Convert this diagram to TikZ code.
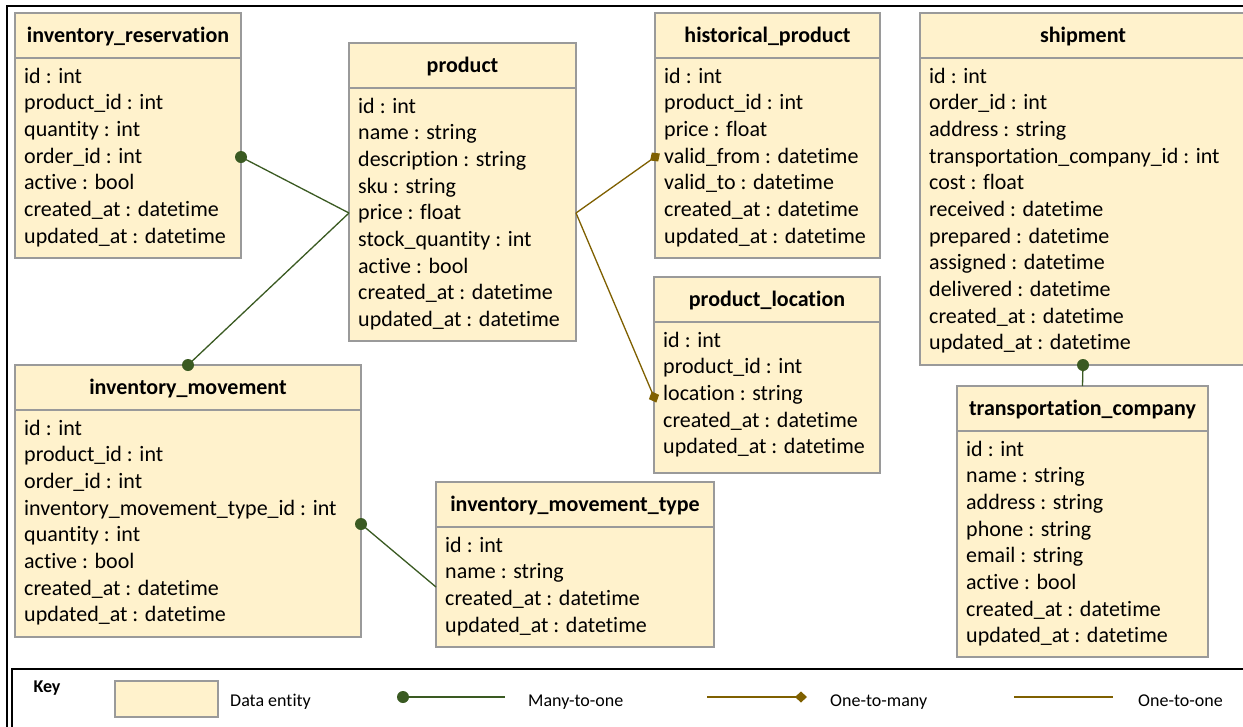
\documentclass[tikz,border=0pt]{standalone}
\usepackage{fontspec}
\setmainfont{Carlito}[Ligatures=CommonOff]
\usetikzlibrary{calc,arrows.meta}

\definecolor{entfill}{HTML}{FFF2CC}
\definecolor{entline}{HTML}{9A9A9A}
\definecolor{mtoone}{HTML}{3A5A22}
\definecolor{onetomany}{HTML}{7F6000}

\tikzset{
  ent/.style={rectangle, draw=entline, fill=entfill, line width=1.2pt, inner sep=0pt, outer sep=0pt},
  sepline/.style={draw=entline, line width=1.2pt},
  ttl/.style={inner sep=0pt, font=\fontsize{22}{26}\selectfont\bfseries},
  row/.style={inner sep=0pt, font=\fontsize{22}{26}\selectfont},
  m2o/.style={draw=mtoone, line width=1.3pt},
  m2odot/.style={fill=mtoone},
  o2m/.style={draw=onetomany, line width=1.3pt, -{Diamond[length=12pt,width=11pt]}, shorten >=-6pt},
  o2o/.style={draw=onetomany, line width=1.3pt},
  frame/.style={draw=black, line width=1.4pt},
  keytext/.style={inner sep=0pt, font=\fontsize{18}{21}\selectfont, anchor=base west},
}

% entity: name, left, top, right, bottom, header bottom, title, attribute rows
\newcommand\erentity[8]{%
  \node[ent, anchor=north west, minimum width=#4-#2, minimum height=#5-#3] (#1) at (#2,-#3) {};
  \draw[sepline] (#2,-#6) -- (#4,-#6);
  \node[ttl, anchor=base] (#1-title) at ({(#2+#4)/2},{-(#3+#6)/2-7}) {#7};
  \foreach \rowtext [count=\k] in {#8} {
    \node[row, anchor=base west] (#1-row\k) at ({#2+9},{-(#6+25+(\k-1)*26.67)}) {\rowtext};
  }
}

\begin{document}
\begin{tikzpicture}[x=1pt, y=1pt]
\useasboundingbox (0,0) rectangle (1243,-726);
\fill[white] (0,0) rectangle (1243,-726);

% outer frame and key frame
\draw[frame] (7,-740) -- (7,-6) -- (1260,-6);
\draw[frame] (12,-740) -- (12,-669) -- (1260,-669);

% entities
\erentity{ir}{15}{13}{241}{258}{58}{inventory\_reservation}
  {id : int, product\_id : int, quantity : int, order\_id : int, active : bool,
   created\_at : datetime, updated\_at : datetime}
\erentity{prod}{349}{43}{576}{341}{88}{product}
  {id : int, name : string, description : string, sku : string, price : float,
   stock\_quantity : int, active : bool, created\_at : datetime, updated\_at : datetime}
\erentity{hp}{655}{13}{880}{258}{58}{historical\_product}
  {id : int, product\_id : int, price : float, valid\_from : datetime, valid\_to : datetime,
   created\_at : datetime, updated\_at : datetime}
\erentity{pl}{654}{277}{880}{473}{322}{product\_location}
  {id : int, product\_id : int, location : string, created\_at : datetime, updated\_at : datetime}
\erentity{sh}{920}{13}{1246}{365}{58}{shipment}
  {id : int, order\_id : int, address : string, transportation\_company\_id : int, cost : float,
   received : datetime, prepared : datetime, assigned : datetime, delivered : datetime,
   created\_at : datetime, updated\_at : datetime}
\erentity{tc}{957}{386}{1208}{657}{431}{transportation\_company}
  {id : int, name : string, address : string, phone : string, email : string, active : bool,
   created\_at : datetime, updated\_at : datetime}
\erentity{im}{15}{365}{361}{637}{410}{inventory\_movement}
  {id : int, product\_id : int, order\_id : int, inventory\_movement\_type\_id : int,
   quantity : int, active : bool, created\_at : datetime, updated\_at : datetime}
\erentity{imt}{436}{482}{714}{647}{527}{inventory\_movement\_type}
  {id : int, name : string, created\_at : datetime, updated\_at : datetime}

% attachment points on the entity borders
\coordinate (ir-p)   at ($(ir.north east)+(0,-144)$);
\coordinate (prod-l) at ($(prod.north west)+(0,-170)$);
\coordinate (prod-r) at ($(prod.north east)+(0,-170)$);
\coordinate (hp-l)   at ($(hp.north west)+(0,-144)$);
\coordinate (pl-l)   at ($(pl.north west)+(0,-120)$);
\coordinate (im-r)   at ($(im.north east)+(0,-159)$);
\coordinate (imt-l)  at ($(imt.north west)+(0,-105)$);

% many-to-one relations
\draw[m2o] (ir-p) -- (prod-l);
\draw[m2o] (im.north) -- (prod-l);
\draw[m2o] (im-r) -- (imt-l);
\draw[m2o] (sh.south) -- (tc.north);
\fill[m2odot] (ir-p) circle (6);
\fill[m2odot] (im.north) circle (6);
\fill[m2odot] (im-r) circle (6);
\fill[m2odot] (sh.south) circle (6);

% one-to-many relations
\draw[o2m] (prod-r) -- (hp-l);
\draw[o2m] (prod-r) -- (pl-l);

% key
\node[inner sep=0pt, font=\fontsize{18}{21}\selectfont\bfseries] (keylabel) at (47,-688) {Key};
\node[ent, anchor=north west, minimum width=103, minimum height=36] (keyent) at (115,-681) {};
\node[keytext] (keyenttext) at (230,-706) {Data entity};

\coordinate (k1a) at (403,-697);
\coordinate (k1b) at (505,-697);
\draw[m2o] (k1a) -- (k1b);
\fill[m2odot] (k1a) circle (6);
\node[keytext] (k1text) at (528,-706) {Many-to-one};

\coordinate (k2a) at (707,-697);
\coordinate (k2b) at (801,-697);
\draw[o2m] (k2a) -- (k2b);
\node[keytext] (k2text) at (830,-706) {One-to-many};

\coordinate (k3a) at (1014,-697);
\coordinate (k3b) at (1113,-697);
\draw[o2o] (k3a) -- (k3b);
\node[keytext] (k3text) at (1138,-706) {One-to-one};
\end{tikzpicture}
\end{document}
